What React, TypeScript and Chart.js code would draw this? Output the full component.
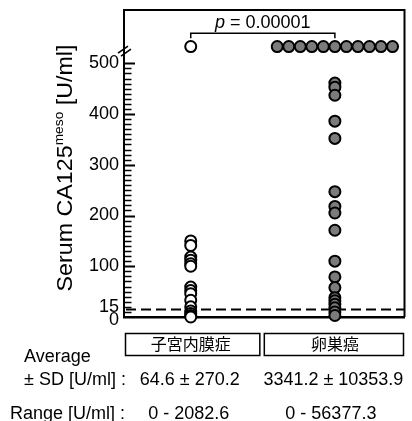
import React, { useEffect, useRef } from 'react';
import { Chart, registerables } from 'chart.js';

Chart.register(...registerables);

// ---- data ----
const categories = ['子宮内膜症', '卵巣癌'];
const categoryX = [1, 2];
// values (U/ml), on-scale points
const endoValues = [150, 141, 118, 112, 105, 100, 59, 52, 46, 33, 20, 12, 7, 3, 0];
const ovarianValues = [461, 453, 437, 386, 352, 247, 218, 205, 171, 110, 79, 58, 38, 32, 25, 18, 10, 3];
// off-scale (> break) points, drawn in the row above the axis break
const offScaleValue = 533;
const endoOffScaleX = [1];
const ovarianOffScaleX = [1.6, 1.68, 1.76, 1.84, 1.92, 2.0, 2.08, 2.16, 2.24, 2.32, 2.4];
const yTickValues = [0, 15, 100, 200, 300, 400, 500];
const cutoffValue = 15;
const breakValue = 524;
const bracketValue = 559;
const pValueText = '0.00001';
const avgSDText = ['64.6 ± 270.2', '3341.2 ± 10353.9'];
const rangeText = ['0 - 2082.6', '0 - 56377.3'];

const FONT = '"Liberation Sans", Arial, Helvetica, sans-serif';
const CJK = '"Noto Sans CJK JP", "Noto Sans CJK SC", sans-serif';

const overlay = {
  id: 'overlay',
  beforeDatasetsDraw(chart: any) {
    const { ctx, chartArea: a, scales } = chart;
    const y = scales.y;
    ctx.save();
    ctx.strokeStyle = '#000';
    // frame top/right
    ctx.lineWidth = 2;
    ctx.beginPath();
    ctx.moveTo(a.left, a.top);
    ctx.lineTo(a.right, a.top);
    ctx.lineTo(a.right, a.bottom);
    ctx.stroke();
    // inward minor/major ticks
    for (let v = 10; v <= 500; v += 10) {
      const py = Math.round(y.getPixelForValue(v)) + 0.5;
      const major = v % 100 === 0;
      ctx.lineWidth = major ? 2 : 1.5;
      ctx.beginPath();
      ctx.moveTo(a.left, py);
      ctx.lineTo(a.left + (major ? 11 : 7.5), py);
      ctx.stroke();
    }
    // cutoff dashed line
    const cy = y.getPixelForValue(cutoffValue);
    ctx.setLineDash([10, 5]);
    ctx.lineWidth = 2;
    ctx.beginPath();
    ctx.moveTo(a.left + 2, cy);
    ctx.lineTo(a.right, cy);
    ctx.stroke();
    ctx.restore();
  },
  afterDraw(chart: any) {
    const { ctx, chartArea: a, scales } = chart;
    const x = scales.x;
    const y = scales.y;
    ctx.save();
    ctx.strokeStyle = '#000';
    ctx.fillStyle = '#000';
    // axis break marks
    const by = y.getPixelForValue(breakValue);
    ctx.lineWidth = 1.6;
    ctx.beginPath();
    ctx.moveTo(a.left - 6, by + 2);
    ctx.lineTo(a.left + 4, by - 5);
    ctx.moveTo(a.left - 3, by + 5);
    ctx.lineTo(a.left + 7, by - 2);
    ctx.stroke();

    // significance bracket
    const x1 = x.getPixelForValue(categoryX[0]);
    const x2 = x.getPixelForValue(categoryX[1]);
    const bry = y.getPixelForValue(bracketValue);
    ctx.lineWidth = 1.5;
    ctx.beginPath();
    ctx.moveTo(x1, bry + 5);
    ctx.lineTo(x1, bry);
    ctx.lineTo(x2, bry);
    ctx.lineTo(x2, bry + 5);
    ctx.stroke();
    ctx.textBaseline = 'alphabetic';
    ctx.font = `italic 18px ${FONT}`;
    const pW = ctx.measureText('p').width;
    ctx.font = `18px ${FONT}`;
    const restTxt = ' = ' + pValueText;
    const rW = ctx.measureText(restTxt).width;
    const cx = (x1 + x2) / 2;
    const startX = cx - (pW + rW) / 2;
    ctx.font = `italic 18px ${FONT}`;
    ctx.textAlign = 'left';
    ctx.fillText('p', startX, bry - 5);
    ctx.font = `18px ${FONT}`;
    ctx.fillText(restTxt, startX + pW, bry - 5);

    // category boxes
    const mid = x.getPixelForValue((categoryX[0] + categoryX[1]) / 2);
    ctx.lineWidth = 1.5;
    ctx.strokeRect(a.left + 1.5, 333.5, mid - 3 - (a.left + 1.5), 22);
    ctx.strokeRect(mid + 1.5, 333.5, a.right - 1 - (mid + 1.5), 22);

    // stats table
    ctx.font = `18px ${FONT}`;
    ctx.textAlign = 'left';
    ctx.fillText('Average', 24, 362);
    ctx.fillText('± SD [U/ml] :', 24, 384.5);
    ctx.fillText('Range [U/ml] :', 10, 419);
    ctx.textAlign = 'center';
    ctx.fillText(avgSDText[0], x1 - 1, 384.5);
    ctx.fillText(avgSDText[1], x2 - 1.5, 384.5);
    ctx.fillText(rangeText[0], x1 - 2, 419);
    ctx.fillText(rangeText[1], x2 - 4, 419);

    // y-axis title with superscript
    const f1 = `22px ${FONT}`;
    const f2 = `13px ${FONT}`;
    const t1 = 'Serum CA125';
    const t2 = 'meso';
    const t3 = ' [U/ml]';
    ctx.font = f1;
    const w1 = ctx.measureText(t1).width;
    const w3 = ctx.measureText(t3).width;
    ctx.font = f2;
    const w2 = ctx.measureText(t2).width;
    const total = w1 + w2 + w3;
    const target = 247;
    ctx.translate(72, 168);
    ctx.rotate(-Math.PI / 2);
    ctx.scale(target / total, 1);
    ctx.textAlign = 'left';
    let tx = -total / 2;
    ctx.font = f1;
    ctx.fillText(t1, tx, 0);
    tx += w1;
    ctx.font = f2;
    ctx.fillText(t2, tx, -9);
    tx += w2;
    ctx.font = f1;
    ctx.fillText(t3, tx, 0);
    ctx.restore();
  },
};

export default function App() {
  const ref = useRef<HTMLCanvasElement | null>(null);
  useEffect(() => {
    document.body.style.margin = '0';
    const canvas = ref.current;
    if (!canvas) return;
    const endoData = [
      ...endoValues.map((v) => ({ x: categoryX[0], y: v })),
      ...endoOffScaleX.map((xv) => ({ x: xv, y: offScaleValue })),
    ];
    const ovData = [
      ...ovarianValues.map((v) => ({ x: categoryX[1], y: v })),
      ...ovarianOffScaleX.map((xv) => ({ x: xv, y: offScaleValue })),
    ];
    const chart = new Chart(canvas, {
      type: 'scatter',
      data: {
        datasets: [
          {
            label: categories[0],
            data: endoData,
            pointRadius: 5.5,
            pointBorderWidth: 2,
            pointBackgroundColor: '#ffffff',
            pointBorderColor: '#000000',
            showLine: false,
            clip: false,
          } as any,
          {
            label: categories[1],
            data: ovData,
            pointRadius: 5.5,
            pointBorderWidth: 2,
            pointBackgroundColor: '#7b7b7b',
            pointBorderColor: '#000000',
            showLine: false,
            clip: false,
          } as any,
        ],
      },
      plugins: [overlay],
      options: {
        animation: false,
        responsive: false,
        events: [],
        layout: { padding: { left: 0, right: 2, top: 10, bottom: 0 } },
        plugins: { legend: { display: false }, tooltip: { enabled: false } },
        scales: {
          x: {
            type: 'linear',
            min: 0.537,
            max: 2.483,
            grid: { display: false, drawTicks: false },
            border: { display: true, width: 2.5, color: '#000' },
            afterBuildTicks: (s: any) => {
              s.ticks = categoryX.map((v) => ({ value: v }));
            },
            afterFit: (s: any) => {
              s.height = 104;
            },
            ticks: {
              autoSkip: false,
              maxRotation: 0,
              padding: 17,
              color: '#000',
              font: { family: CJK, size: 16 },
              callback: (v: any) => categories[categoryX.indexOf(Number(v))] ?? '',
            },
          },
          y: {
            type: 'linear',
            min: 0,
            max: 605,
            grid: { display: false, drawTicks: false },
            border: { display: true, width: 2, color: '#000' },
            afterBuildTicks: (s: any) => {
              s.ticks = yTickValues.map((v) => ({ value: v }));
            },
            afterFit: (s: any) => {
              s.width = 124;
            },
            ticks: {
              autoSkip: false,
              padding: 5,
              color: '#000',
              font: { family: FONT, size: 18, lineHeight: 0.3 },
              callback: (v: any) => {
                const n = Number(v);
                if (n === 15) return ['15', ''];
                if (n === 0) return ['', '0'];
                return String(n);
              },
            },
          },
        },
      },
    });
    return () => chart.destroy();
  }, []);
  return <canvas ref={ref} width={412} height={421} style={{ display: 'block' }} />;
}
